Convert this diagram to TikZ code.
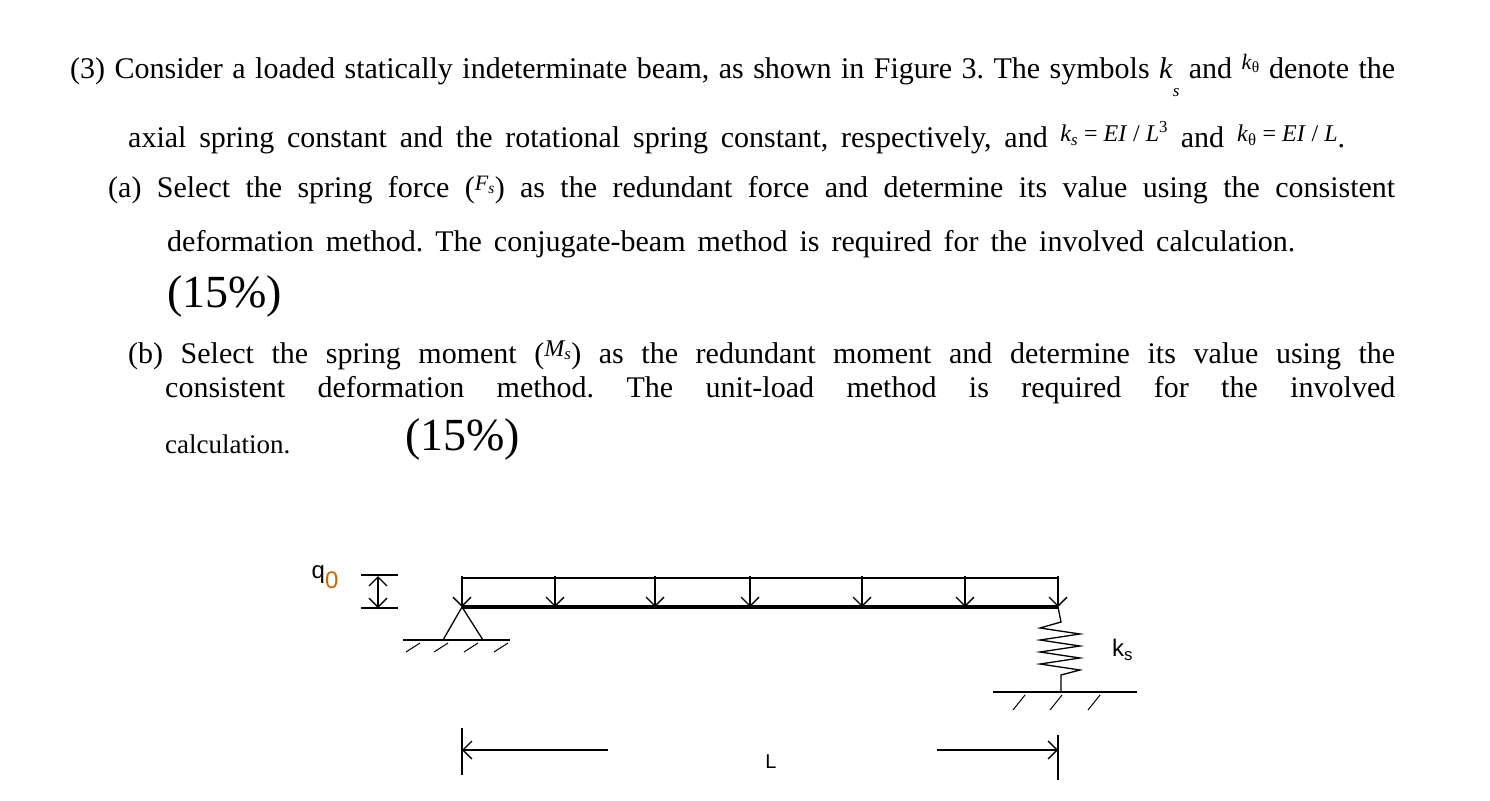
\documentclass[tikz,border=0pt]{standalone}
\usepackage{fontspec}
\setmainfont{Liberation Serif}
\newfontfamily\arialf{Liberation Sans}
\usetikzlibrary{arrows.meta}
\newcommand{\jl}[2]{\hbox to #1pt{#2}}
\begin{document}
\frenchspacing
\begin{tikzpicture}[x=1pt,y=-1pt,
  txt/.style={anchor=west,inner sep=0pt},
  ln/.style={line width=1.3pt},
  ld/.style={line width=1.3pt,-{Straight Barb[length=9pt,width=18pt]}}]
\useasboundingbox (0,0) rectangle (1490,800);
\fontsize{30}{34}\selectfont
\node[txt] (l1) at (70,75) {\jl{1325}{(3) Consider a loaded statically indeterminate beam, as shown in Figure 3. The symbols \textit{k}\raisebox{-18pt}{\fontsize{17}{17}\selectfont\textit{s}} and \raisebox{9pt}{\fontsize{22}{22}\selectfont\textit{k}\textsubscript{θ}} denote the}};
\node[txt] (l2) at (128,138) {\jl{1217}{axial spring constant and the rotational spring constant, respectively, and \raisebox{6pt}{\fontsize{24}{24}\selectfont\textit{k\textsubscript{s}} = \textit{EI} / \textit{L}\textsuperscript{3}} and \raisebox{6pt}{\fontsize{24}{24}\selectfont\textit{k}\textsubscript{θ} = \textit{EI} / \textit{L}}.}};
\node[txt] (l3) at (108,190) {\jl{1287}{(a) Select the spring force (\raisebox{7pt}{\fontsize{22}{22}\selectfont\textit{F\textsubscript{s}}}) as the redundant force and determine its value using the consistent}};
\node[txt] (l4) at (167,244) {\jl{1128}{deformation method. The conjugate-beam method is required for the involved calculation.}};
\node[txt] (l5) at (167,296) {\fontsize{46}{46}\selectfont (15\%)};
\node[txt] (l6) at (128,355) {\jl{1267}{(b) Select the spring moment (\raisebox{7pt}{\fontsize{24}{24}\selectfont\textit{M\textsubscript{s}}}) as the redundant moment and determine its value using the}};
\node[txt] (l7) at (165,390) {\jl{1230}{consistent deformation method. The unit-load method is required for the involved}};
\node[txt] (l8) at (165,444) {\fontsize{27}{30}\selectfont calculation.};
\node[txt] (l9) at (405,439) {\fontsize{46}{46}\selectfont (15\%)};
% beam
\coordinate (A) at (462,607);
\coordinate (B) at (1058,607);
\draw[line width=4pt] (A) -- (B);
\draw[ln] (462,578) -- (1058,578);
\foreach \x in {462,555,655,750,862,965,1058}
  \draw[ld] (\x,576) -- (\x,607);
% q0
\node[anchor=center] (q) at (325,577) {\arialf\fontsize{24}{24}\selectfont q\raisebox{-10pt}{\color{orange!80!black}0}};
\draw[ln] (361,575) -- (398,575);
\draw[ln] (361,608) -- (398,608);
\draw[ld] (378,592) -- (378,576);
\draw[ld] (378,592) -- (378,608);
% pin support
\draw[ln] (A) -- (443,640) -- (483,640) -- cycle;
\draw[ln] (403,640) -- (510,640);
\foreach \x in {420,448,478,508}
  \draw[line width=1pt] (\x,643) -- (\x-14,652);
% spring
\draw[ln] (B) -- (1061,622)
  -- (1040,628) -- (1080,634) -- (1040,640) -- (1080,646) -- (1040,652) -- (1080,658) -- (1040,664) -- (1080,670) -- (1061,675) -- (1061,692);
\draw[ln] (993,692) -- (1137,692);
\foreach \x in {1025,1062,1100}
  \draw[line width=1pt] (\x,695) -- (\x-12,710);
\node[anchor=west] (ks) at (1102,650) {\arialf\fontsize{24}{24}\selectfont k\textsubscript{s}};
% dimension
\draw[ln] (462,728) -- (462,775);
\draw[ln] (1058,735) -- (1058,780);
\draw[ld] (608,750) -- (462,750);
\draw[ld] (937,750) -- (1058,750);
\node (L) at (771,762) {\arialf\fontsize{20}{20}\selectfont L};
\end{tikzpicture}
\end{document}
